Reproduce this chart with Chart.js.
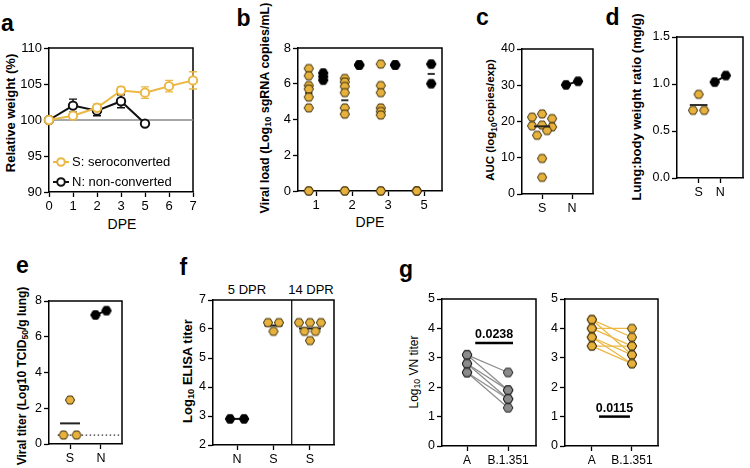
<!DOCTYPE html>
<html><head><meta charset="utf-8">
<script src="https://cdn.jsdelivr.net/npm/chart.js@4.4.1/dist/chart.umd.min.js"></script>
<style>
html,body{margin:0;padding:0;background:#fff;}
body{width:750px;height:468px;overflow:hidden;position:relative;font-family:'Liberation Sans',Arial,Helvetica,sans-serif;color:#000;}
canvas{position:absolute;}
.t{position:absolute;white-space:nowrap;line-height:1;}
.r{transform:translate(-50%,-50%) rotate(-90deg);}
.h{transform:translate(-50%,-50%);}
.b{font-weight:bold;}
.lbl{position:absolute;font-weight:bold;font-size:23px;line-height:1;}
sub{font-size:0.72em;vertical-align:-0.28em;line-height:0;}
</style></head><body>
<div class="lbl" style="left:1px;top:11.5px">a</div>
<div class="lbl" style="left:236.5px;top:6.5px">b</div>
<div class="lbl" style="left:476px;top:5.5px">c</div>
<div class="lbl" style="left:605.5px;top:5.5px">d</div>
<div class="lbl" style="left:16px;top:253.5px">e</div>
<div class="lbl" style="left:179.5px;top:255.5px">f</div>
<div class="lbl" style="left:399px;top:257.5px">g</div>

<div class="t r b" style="left:10px;top:113px;font-size:13px">Relative weight (%)</div>
<div class="t h" style="left:122px;top:224px;font-size:14px">DPE</div>
<div class="t r b" style="left:265px;top:108px;font-size:12.5px">Viral load (Log<sub>10</sub> sgRNA copies/mL)</div>
<div class="t h" style="left:370px;top:222px;font-size:14px">DPE</div>
<div class="t r b" style="left:491px;top:120px;font-size:11.5px">AUC (log<sub>10</sub>copies/exp)</div>
<div class="t r b" style="left:636px;top:107px;font-size:13px">Lung:body weight ratio (mg/g)</div>
<div class="t r b" style="left:22px;top:376px;font-size:12px">Viral titer (Log10 TCID<sub>50</sub>/g lung)</div>
<div class="t r b" style="left:187px;top:371px;font-size:13px">Log<sub>10</sub> ELISA titer</div>
<div class="t h" style="left:247px;top:289px;font-size:13px">5 DPR</div>
<div class="t h" style="left:311px;top:289px;font-size:13px">14 DPR</div>
<div class="t r" style="left:414px;top:372px;font-size:12px">Log<sub>10</sub> VN titer</div>

<script>
// ---------------- DATA ----------------
// a: relative weight
const dpeA = ['0','1','2','3','5','6','7'];
const seriesNames = ['S: seroconverted', 'N: non-converted'];
const weightS = [100, 100.6, 101.7, 104.1, 103.8, 104.7, 105.5];
const semS    = [0, 0.4, 0.5, 0.5, 0.8, 0.8, 1.2];
const weightN = [100, 102.0, 101.3, 102.6, 99.5, null, null];
const semN    = [0, 0.9, 0.7, 0.9, 0, null, null];
const refWeight = 100;

// b: viral load per DPE
const dpeB = ['1','2','3','5'];
const loadS = [
  [6.85, 6.45, 5.9, 5.7, 5.25, 4.65, 0, 0],
  [6.3, 6.1, 5.85, 5.5, 4.65, 4.3, 0, 0],
  [7.1, 5.9, 5.5, 4.65, 4.45, 4.25, 0, 0],
  [0, 0, 0]
];
const loadN = [
  [6.6, 6.4, 6.2],
  [7.05, 7.05],
  [7.05, 7.05],
  [7.1, 6.0]
];

// c: AUC
const groupsSN = ['S', 'N'];
const aucS = [22.1, 21.2, 20.8, 19.0, 18.8, 18.5, 17.5, 16.2, 9.8, 4.6];
const aucN = [30.1, 31.1];

// d: lung:body weight ratio
const lungS = [0.89, 0.72, 0.72];
const lungN = [1.02, 1.09];

// e: viral titer in lung
const titerS = [2.46, 0.5, 0.5];
const titerN = [7.22, 7.46];
const lodE = 0.5;

// f: ELISA titer
const groupsF = ['N', 'S', 'S'];
const elisaN = [2.9, 2.9];
const elisaS5 = [6.22, 6.22, 5.92];
const elisaS14 = [6.22, 6.22, 6.22, 5.92, 5.92, 5.6];

// g: VN titer pairs (A -> B.1.351)
const variants = ['A', 'B.1.351'];
const vnA_N = [3.1, 3.1, 2.8, 2.8, 2.5, 2.5];
const vnB_N = [2.5, 1.9, 1.9, 1.6, 1.6, 1.3];
const vnA_S = [4.3, 4.3, 4.0, 4.0, 3.7, 3.7, 3.4, 3.4];
const vnB_S = [3.7, 3.1, 4.0, 3.4, 3.1, 2.8, 3.4, 2.8];
const pLeft = '0.0238', pLeftY = 3.5, pLeftX = [1.2, 2.12];
const pRight = '0.0115', pRightY = 1.0, pRightX = [1.18, 1.95];

// ---------------- STYLE ----------------
const FONT = "'Liberation Sans', Arial, Helvetica, sans-serif";
const GOLD_LINE = '#EBB845';
const GOLD_FILL = '#E6B23D';
const GOLD_EDGE = '#3a2a06';
const GRAY_FILL = '#8b8b8b';
const GRAY_LINE = '#8e8e8e';
const BLACK = '#111';

Chart.defaults.font.family = FONT;
Chart.defaults.font.size = 12.5;
Chart.defaults.color = '#000';

function hexImg(fill, stroke, r) {
  const s = Math.ceil(2 * r + 2);
  const c = document.createElement('canvas');
  c.width = s; c.height = s;
  const ctx = c.getContext('2d');
  ctx.beginPath();
  for (let k = 0; k < 6; k++) {
    const a = Math.PI / 3 * k;
    const px = s / 2 + r * Math.cos(a), py = s / 2 + r * Math.sin(a);
    k ? ctx.lineTo(px, py) : ctx.moveTo(px, py);
  }
  ctx.closePath();
  ctx.fillStyle = fill; ctx.fill();
  ctx.lineWidth = 1; ctx.strokeStyle = stroke; ctx.stroke();
  return c;
}
const HEX_GOLD = hexImg(GOLD_FILL, GOLD_EDGE, 4.6);
const HEX_BLACK = hexImg('#000', '#000', 4.8);
const HEX_GRAY = hexImg(GRAY_FILL, '#1c1c1c', 4.8);

const median = a => { const s = [...a].sort((p, q) => p - q); const n = s.length; return n % 2 ? s[(n - 1) / 2] : (s[n / 2 - 1] + s[n / 2]) / 2; };
const mean = a => a.reduce((p, q) => p + q, 0) / a.length;

// row-based beeswarm layout (computed, not stored)
function swarm(values, center, dUnits, yPxPerUnit, thrPx) {
  const sorted = values.slice().sort((a, b) => b - a);
  const rows = []; let cur = [];
  for (const v of sorted) {
    if (cur.length && ((cur[0] - v) * yPxPerUnit > thrPx || cur.length >= 3)) { rows.push(cur); cur = []; }
    cur.push(v);
  }
  if (cur.length) rows.push(cur);
  const out = [];
  for (const row of rows) {
    if (row.length === 1) out.push({x: center, y: row[0]});
    else if (row.length === 2) { out.push({x: center - dUnits / 2, y: row[1]}); out.push({x: center + dUnits / 2, y: row[0]}); }
    else { const offs = [0, -1, 1]; row.forEach((v, i) => out.push({x: center + offs[i] * dUnits, y: v})); }
  }
  return out;
}

function axis(extra) {
  const base = {
    grid: {display: true, drawOnChartArea: false, drawTicks: true, tickLength: 5, tickColor: '#000', tickWidth: 1.3},
    border: {display: true, color: '#000', width: 1.5},
    ticks: {color: '#000', padding: 2, autoSkip: false, maxRotation: 0, minRotation: 0},
  };
  const o = Object.assign({}, base, extra);
  o.grid = Object.assign({}, base.grid, extra.grid || {});
  o.border = Object.assign({}, base.border, extra.border || {});
  o.ticks = Object.assign({}, base.ticks, extra.ticks || {});
  return o;
}

const framePlugin = {
  id: 'frame',
  beforeDatasetsDraw(chart) {
    const {ctx, chartArea: a} = chart;
    ctx.save(); ctx.strokeStyle = '#000'; ctx.lineWidth = 1.5;
    ctx.beginPath(); ctx.moveTo(a.left, a.top); ctx.lineTo(a.right, a.top); ctx.lineTo(a.right, a.bottom); ctx.stroke();
    ctx.restore();
  }
};

function makeChart(cv, plot, type, data, xOpt, yOpt, plugins) {
  const c = document.createElement('canvas');
  c.width = cv.w; c.height = cv.h;
  c.style.cssText = `left:${cv.x}px;top:${cv.y}px;width:${cv.w}px;height:${cv.h}px;`;
  document.body.appendChild(c);
  xOpt.afterFit = s => { s.height = cv.y + cv.h - plot.b; };
  yOpt.afterFit = s => { s.width = plot.l - cv.x; };
  return new Chart(c, {
    type, data,
    options: {
      responsive: false, maintainAspectRatio: false, animation: false, devicePixelRatio: 1,
      layout: {padding: {top: plot.t - cv.y, right: cv.x + cv.w - plot.r, left: 0, bottom: 0}},
      plugins: {legend: {display: false}, tooltip: {enabled: false}},
      scales: {x: axis(xOpt), y: axis(yOpt)},
      events: []
    },
    plugins: [framePlugin].concat(plugins || [])
  });
}

function catX(labels, min, max, size) {
  return {
    type: 'linear', min, max,
    afterBuildTicks: s => { s.ticks = labels.map((_, i) => ({value: i + 1})); },
    ticks: {font: {size: size || 12.5}, callback: v => labels[Math.round(v) - 1] ?? ''}
  };
}
function linY(min, max, step, size, dec) {
  return {type: 'linear', min, max, ticks: {stepSize: step, font: {size: size || 12.5}, callback: v => dec ? Number(v).toFixed(dec) : String(Math.round(v * 100) / 100)}};
}
function ptsDS(data, img, order, extra) {
  return Object.assign({data, pointStyle: img, pointRadius: 5, order, clip: false, showLine: false, borderColor: BLACK, backgroundColor: BLACK}, extra || {});
}
function segDS(xc, half, yv, color, width, order) {
  return {data: [{x: xc - half, y: yv}, {x: xc + half, y: yv}], showLine: true, pointRadius: 0, borderColor: color, borderWidth: width, order, clip: false};
}
function scaleInfo(plot, xmin, xmax, ymin, ymax) {
  return {xpx: (plot.r - plot.l) / (xmax - xmin), ypx: (plot.b - plot.t) / (ymax - ymin)};
}

// ---------------- PANEL a ----------------
(function () {
  const cv = {x: 0, y: 20, w: 205, h: 197};
  const plot = {l: 49, t: 48, r: 193, b: 192};
  const aPlugin = {
    id: 'aExtras',
    beforeDatasetsDraw(chart) {
      const {ctx, chartArea: a, scales: {x, y}} = chart;
      ctx.save();
      const yr = y.getPixelForValue(refWeight);
      ctx.strokeStyle = '#8a8a8a'; ctx.lineWidth = 1.5;
      ctx.beginPath(); ctx.moveTo(a.left, yr); ctx.lineTo(a.right, yr); ctx.stroke();
      [[weightS, semS, GOLD_LINE], [weightN, semN, BLACK]].forEach(([vals, sem, col]) => {
        ctx.strokeStyle = col; ctx.lineWidth = 1.4;
        vals.forEach((v, i) => {
          if (v == null || !sem[i]) return;
          const px = x.getPixelForValue(i);
          const y1 = y.getPixelForValue(v + sem[i]), y2 = y.getPixelForValue(v - sem[i]);
          ctx.beginPath();
          ctx.moveTo(px, y1); ctx.lineTo(px, y2);
          ctx.moveTo(px - 4, y1); ctx.lineTo(px + 4, y1);
          ctx.moveTo(px - 4, y2); ctx.lineTo(px + 4, y2);
          ctx.stroke();
        });
      });
      ctx.restore();
    },
    afterDatasetsDraw(chart) {
      const {ctx, chartArea: a} = chart;
      ctx.save();
      [[seriesNames[0], GOLD_LINE], [seriesNames[1], BLACK]].forEach(([t, c], k) => {
        const yy = a.bottom - 30 + k * 20;
        ctx.strokeStyle = c; ctx.lineWidth = 2;
        ctx.beginPath(); ctx.moveTo(a.left + 4, yy); ctx.lineTo(a.left + 20, yy); ctx.stroke();
        ctx.beginPath(); ctx.arc(a.left + 12, yy, 3.8, 0, Math.PI * 2); ctx.fillStyle = '#fff'; ctx.fill(); ctx.stroke();
        ctx.fillStyle = '#000'; ctx.font = '13px ' + FONT; ctx.textBaseline = 'middle'; ctx.textAlign = 'left';
        ctx.fillText(t, a.left + 23, yy);
      });
      ctx.restore();
    }
  };
  const common = {pointRadius: 4.2, pointBorderWidth: 2, pointBackgroundColor: '#fff', borderWidth: 2, clip: false, tension: 0, pointStyle: 'circle'};
  makeChart(cv, plot, 'line', {
    labels: dpeA,
    datasets: [
      Object.assign({label: seriesNames[0], data: weightS, borderColor: GOLD_LINE, pointBorderColor: GOLD_LINE, order: 0}, common),
      Object.assign({label: seriesNames[1], data: weightN, borderColor: BLACK, pointBorderColor: BLACK, order: 1}, common)
    ]
  },
  {type: 'category', offset: false, grid: {offset: false}, ticks: {font: {size: 13}}},
  linY(90, 110, 5, 13), [aPlugin]);
})();

// ---------------- PANEL b ----------------
(function () {
  const cv = {x: 275, y: 20, w: 180, h: 197};
  const plot = {l: 298, t: 48, r: 442, b: 191};
  const SHIFT = 0.2, HALF = 0.1;
  const gold = [], black = [], meds = [];
  loadS.forEach((vals, i) => vals.forEach(v => gold.push({x: i + 1 - SHIFT, y: v})));
  loadN.forEach((vals, i) => vals.forEach(v => black.push({x: i + 1 + SHIFT, y: v})));
  loadS.forEach((vals, i) => meds.push(segDS(i + 1 - SHIFT, HALF, median(vals), '#333', 2, 5)));
  loadN.forEach((vals, i) => meds.push(segDS(i + 1 + SHIFT, HALF, median(vals), '#333', 2, 5)));
  makeChart(cv, plot, 'scatter', {
    datasets: [ptsDS(gold, HEX_GOLD, 1), ptsDS(black, HEX_BLACK, 2)].concat(meds)
  }, catX(dpeB, 0.5, 4.5, 13), linY(0, 8, 2, 13));
})();

// ---------------- PANEL c ----------------
(function () {
  const cv = {x: 495, y: 20, w: 110, h: 197};
  const plot = {l: 522, t: 49, r: 593, b: 194};
  const xmin = 0.33, xmax = 2.7, ymin = 0, ymax = 40;
  const si = scaleInfo(plot, xmin, xmax, ymin, ymax);
  const d = 10 / si.xpx;
  const s = swarm(aucS, 1, d, si.ypx, 8);
  const n = swarm(aucN, 2, 12 / si.xpx, si.ypx, 8);
  makeChart(cv, plot, 'scatter', {
    datasets: [
      segDS(1, 8 / si.xpx, median(aucS), '#222', 2, 0),
      ptsDS(s, HEX_GOLD, 1),
      ptsDS(n, HEX_BLACK, 2, {showLine: true, borderWidth: 2})
    ]
  }, catX(groupsSN, xmin, xmax), linY(ymin, ymax, 10));
})();

// ---------------- PANEL d ----------------
(function () {
  const cv = {x: 650, y: 10, w: 100, h: 207};
  const plot = {l: 677, t: 37, r: 748, b: 178};
  const xmin = 0, xmax = 3.05, ymin = 0, ymax = 1.5;
  const si = scaleInfo(plot, xmin, xmax, ymin, ymax);
  const s = swarm(lungS, 1, 12 / si.xpx, si.ypx, 8);
  const n = swarm(lungN, 2, 12 / si.xpx, si.ypx, 8);
  makeChart(cv, plot, 'scatter', {
    datasets: [
      segDS(1, 9.5 / si.xpx, mean(lungS), '#333', 2, 3),
      ptsDS(s, HEX_GOLD, 1),
      ptsDS(n, HEX_BLACK, 2, {showLine: true, borderWidth: 2})
    ]
  }, catX(groupsSN, xmin, xmax), linY(ymin, ymax, 0.5, 12.5, 1));
})();

// ---------------- PANEL e ----------------
(function () {
  const cv = {x: 20, y: 285, w: 115, h: 183};
  const plot = {l: 49, t: 301, r: 122, b: 444};
  const xmin = 0.32, xmax = 2.68, ymin = 0, ymax = 8;
  const si = scaleInfo(plot, xmin, xmax, ymin, ymax);
  const s = swarm(titerS, 1, 13 / si.xpx, si.ypx, 8);
  const n = swarm(titerN, 2, 11 / si.xpx, si.ypx, 8);
  const lod = {
    id: 'lod',
    beforeDatasetsDraw(chart) {
      const {ctx, chartArea: a, scales: {x, y}} = chart;
      const yy = y.getPixelForValue(lodE);
      ctx.save(); ctx.strokeStyle = '#333'; ctx.lineWidth = 1.3; ctx.setLineDash([1.5, 2.5]);
      ctx.beginPath(); ctx.moveTo(x.getPixelForValue(0.6), yy); ctx.lineTo(a.right, yy); ctx.stroke();
      ctx.restore();
    }
  };
  makeChart(cv, plot, 'scatter', {
    datasets: [
      segDS(1, 10 / si.xpx, mean(titerS), '#222', 2, 3),
      ptsDS(s, HEX_GOLD, 1),
      ptsDS(n, HEX_BLACK, 2, {showLine: true, borderWidth: 2})
    ]
  }, catX(groupsSN, xmin, xmax), linY(ymin, ymax, 2), [lod]);
})();

// ---------------- PANEL f ----------------
(function () {
  const cv = {x: 190, y: 285, w: 155, h: 183};
  const plot = {l: 213, t: 300, r: 334, b: 445};
  const xmin = 0.34, xmax = 3.66, ymin = 2, ymax = 7;
  const si = scaleInfo(plot, xmin, xmax, ymin, ymax);
  const d = 11 / si.xpx;
  const n = swarm(elisaN, 1, 14 / si.xpx, si.ypx, 8);
  const s5 = swarm(elisaS5, 2, d, si.ypx, 8);
  const s14 = swarm(elisaS14, 3, d, si.ypx, 8);
  const divider = {
    id: 'divider',
    beforeDatasetsDraw(chart) {
      const {ctx, chartArea: a, scales: {x}} = chart;
      const xx = x.getPixelForValue((2 + 3) / 2);
      ctx.save(); ctx.strokeStyle = '#000'; ctx.lineWidth = 1.2;
      ctx.beginPath(); ctx.moveTo(xx, a.top); ctx.lineTo(xx, a.bottom); ctx.stroke(); ctx.restore();
    }
  };
  makeChart(cv, plot, 'scatter', {
    datasets: [
      segDS(2, 9 / si.xpx, mean(elisaS5), '#222', 2, 3),
      segDS(3, 11 / si.xpx, mean(elisaS14), '#222', 2, 3),
      ptsDS(s5, HEX_GOLD, 1),
      ptsDS(s14, HEX_GOLD, 1),
      ptsDS(n, HEX_BLACK, 2, {showLine: true, borderWidth: 2})
    ]
  }, catX(groupsF, xmin, xmax), linY(ymin, ymax, 1), [divider]);
})();

// ---------------- PANEL g ----------------
function pairedPanel(cv, plot, xmin, xmax, aVals, bVals, img, lineColor, pText, pY, pX) {
  const lines = aVals.map((v, i) => ({data: [{x: 1, y: v}, {x: 2, y: bVals[i]}], showLine: true, pointRadius: 0, borderColor: lineColor, borderWidth: 1.3, order: 2, clip: false}));
  const pts = aVals.map(v => ({x: 1, y: v})).concat(bVals.map(v => ({x: 2, y: v})));
  const sig = {
    id: 'sig',
    afterDatasetsDraw(chart) {
      const {ctx, scales: {x, y}} = chart;
      const yy = y.getPixelForValue(pY);
      const x1 = x.getPixelForValue(pX[0]), x2 = x.getPixelForValue(pX[1]);
      ctx.save(); ctx.strokeStyle = '#000'; ctx.lineWidth = 2.5;
      ctx.beginPath(); ctx.moveTo(x1, yy); ctx.lineTo(x2, yy); ctx.stroke();
      ctx.fillStyle = '#000'; ctx.font = 'bold 12.5px ' + FONT; ctx.textAlign = 'center'; ctx.textBaseline = 'alphabetic';
      ctx.fillText(pText, (x1 + x2) / 2, yy - 5);
      ctx.restore();
    }
  };
  makeChart(cv, plot, 'scatter', {
    datasets: [ptsDS(pts, img, 0)].concat(lines)
  }, catX(variants, xmin, xmax, 12), linY(0, 5, 1, 12.5), [sig]);
}
pairedPanel({x: 420, y: 285, w: 130, h: 183}, {l: 442, t: 299, r: 536, b: 446}, 0.39, 2.68,
  vnA_N, vnB_N, HEX_GRAY, GRAY_LINE, pLeft, pLeftY, pLeftX);
pairedPanel({x: 545, y: 285, w: 125, h: 183}, {l: 565, t: 299, r: 658, b: 446}, 0.33, 2.65,
  vnA_S, vnB_S, HEX_GOLD, GOLD_LINE, pRight, pRightY, pRightX);
</script>
</body></html>
